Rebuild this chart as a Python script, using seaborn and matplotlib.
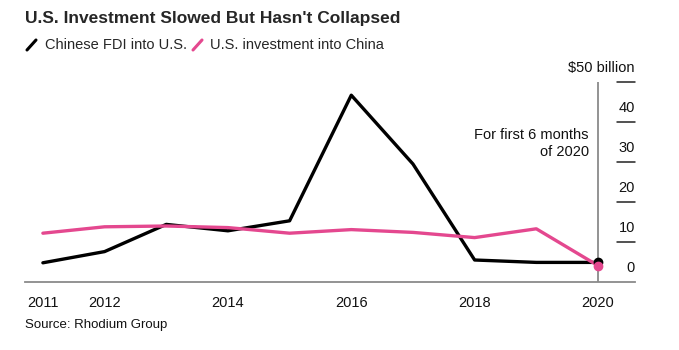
import matplotlib
matplotlib.use("Agg")
import matplotlib.pyplot as plt
import matplotlib.transforms as mtransforms
from matplotlib.lines import Line2D
import pandas as pd
import seaborn as sns

# data ($ billion)
years = [2011, 2012, 2013, 2014, 2015, 2016, 2017, 2018, 2019, 2020]
china_fdi_us = [4.8, 7.6, 14.4, 12.8, 15.3, 46.7, 29.5, 5.5, 4.9, 4.9]
us_inv_china = [12.2, 13.8, 14.0, 13.6, 12.2, 13.1, 12.4, 11.1, 13.3, 4.1]
xtick_years = [2011, 2012, 2014, 2016, 2018, 2020]
ytick_vals = [0, 10, 20, 30, 40, 50]
ytick_labels = ["0", "10", "20", "30", "40", "$50 billion"]

black = "#000000"
pink = "#e4488f"
grey = "#8a8a8a"

sns.set_style("white")
plt.rcParams["font.family"] = ["Liberation Sans", "DejaVu Sans"]

df = pd.DataFrame({"year": years, "fdi": china_fdi_us, "us": us_inv_china})

fig = plt.figure(figsize=(6.79, 3.5), dpi=100)
ax = fig.add_axes([25 / 679, 68 / 350, 610 / 679, 200 / 350])

sns.lineplot(data=df, x="year", y="fdi", color=black, linewidth=2.4, ax=ax)
sns.lineplot(data=df, x="year", y="us", color=pink, linewidth=2.4, ax=ax)
ax.plot([years[-1]], [china_fdi_us[-1]], "o", color=black, ms=6, zorder=5)
ax.plot([years[-1]], [us_inv_china[-1]], "o", color=pink, ms=6, zorder=6)

ax.set_xlim(2010.71, 2020.6)
ax.set_ylim(0, 50)
ax.set_xlabel("")
ax.set_ylabel("")

# vertical line at 2020
ax.plot([2020, 2020], [0, 50], color=grey, lw=1.3, zorder=1)

for s in ["left", "top", "right"]:
    ax.spines[s].set_visible(False)
ax.spines["bottom"].set_color(grey)
ax.spines["bottom"].set_linewidth(1.3)

ax.set_xticks(xtick_years)
ax.set_xticklabels([str(y) for y in xtick_years], fontsize=10.5, color="#111111")
ax.tick_params(axis="x", direction="out", length=6, width=1.2, color=grey, pad=4)

# right-side y ticks: short lines with labels sitting above
ax.set_yticks([])
trans = mtransforms.blended_transform_factory(ax.transAxes, ax.transData)
for v, lab in zip(ytick_vals, ytick_labels):
    if v > 0:
        ax.plot([1 - 18 / 610, 1.0], [v, v], color="#222222", lw=1.1,
                transform=trans, clip_on=False)
    ax.annotate(lab, xy=(1.0, v), xycoords=trans, xytext=(0, 5),
                textcoords="offset points", ha="right", va="bottom",
                fontsize=10.5, color="#111111")

ax.text(2019.85, 38.4, "For first 6 months\nof 2020", ha="right", va="top",
        fontsize=10.5, color="#111111", linespacing=1.25)

# title, legend, source
fig.text(25 / 679, 1 - 18 / 350, "U.S. Investment Slowed But Hasn't Collapsed",
         fontsize=12.5, fontweight="bold", va="center", ha="left")
fig.add_artist(Line2D([27 / 679, 36 / 679], [1 - 50 / 350, 1 - 40 / 350],
                      color=black, lw=2.2))
fig.text(45 / 679, 1 - 45 / 350, "Chinese FDI into U.S.", fontsize=10.5,
         va="center", ha="left")
fig.add_artist(Line2D([193 / 679, 202 / 679], [1 - 50 / 350, 1 - 40 / 350],
                      color=pink, lw=2.2))
fig.text(210 / 679, 1 - 45 / 350, "U.S. investment into China", fontsize=10.5,
         va="center", ha="left")
fig.text(25 / 679, 1 - 325 / 350, "Source: Rhodium Group", fontsize=9.5,
         va="center", ha="left", color="#111111")

fig.savefig("out.png", dpi=100)
